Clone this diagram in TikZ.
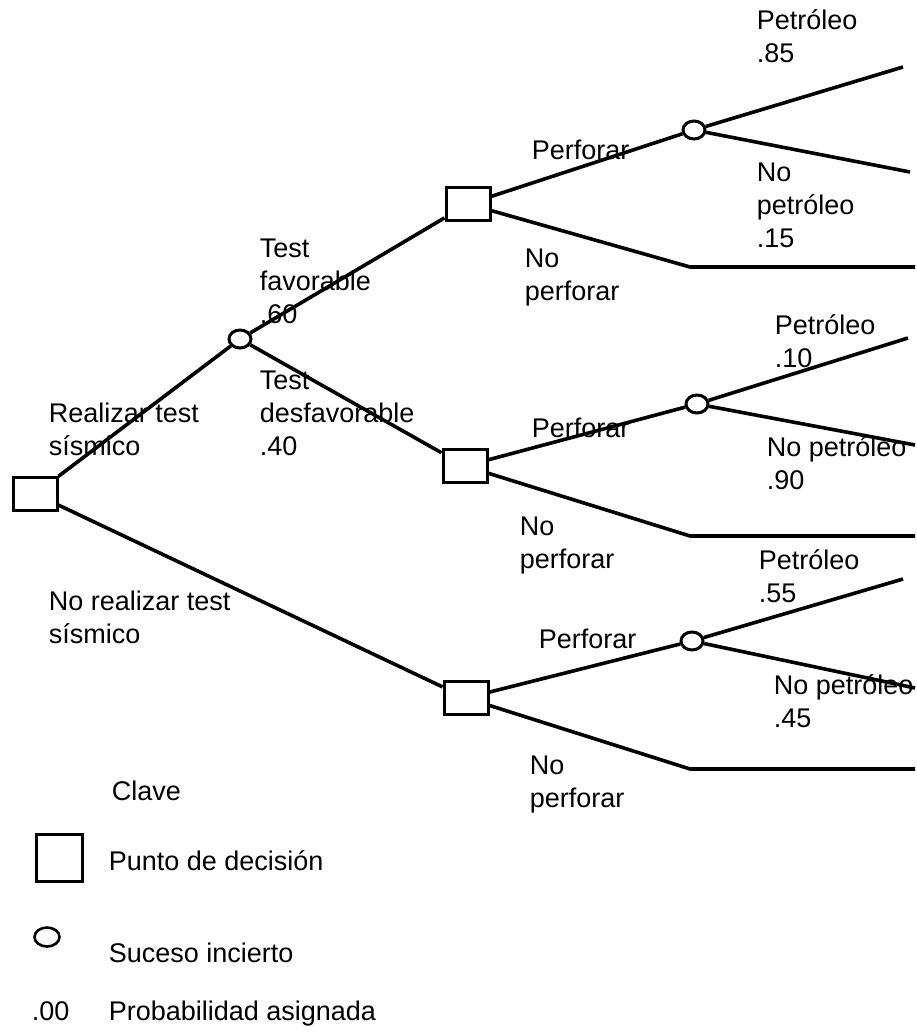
\documentclass[tikz,border=0pt]{standalone}
\usepackage{fontspec}
\setmainfont{Liberation Sans}
\usetikzlibrary{shapes.geometric}
\begin{document}
\begin{tikzpicture}[x=1pt,y=-1pt,line width=3.6pt,
    decision/.style={draw,rectangle,minimum width=44pt,minimum height=33pt,inner sep=0pt,line width=3pt},
    chance/.style={draw,ellipse,minimum width=22pt,minimum height=18pt,inner sep=0pt,line width=3pt},
    lbl/.style={anchor=base west,align=left,inner sep=0pt,font=\fontsize{27}{33}\selectfont}]
  \useasboundingbox (0,0) rectangle (917,1033);
  % nodes of the tree
  \node[decision] (root) at (35,494) {};
  \node[chance] (test) at (240,339) {};
  \node[decision] (fav) at (468,204) {};
  \node[decision] (desf) at (465,466) {};
  \node[decision] (nores) at (466,698) {};
  \node[chance] (favp) at (694,130) {};
  \node[chance] (desfp) at (697,404) {};
  \node[chance] (noresp) at (692,641) {};
  \coordinate (favoil) at (903,67);
  \coordinate (favdry) at (910,172);
  \coordinate (favk) at (690,267);
  \coordinate (favend) at (915,267);
  \coordinate (desfoil) at (908,338);
  \coordinate (desfdry) at (915,445);
  \coordinate (desfk) at (690,536);
  \coordinate (desfend) at (915,536);
  \coordinate (noresoil) at (903,579);
  \coordinate (noresdry) at (915,688);
  \coordinate (noresk) at (690,769);
  \coordinate (noresend) at (915,769);
  % branches
  \draw (root) -- (test);
  \draw (root) -- (nores);
  \draw (test) -- (fav);
  \draw (test) -- (desf);
  \draw (fav) -- (favp);
  \draw (favp) -- (favoil);
  \draw (favp) -- (favdry);
  \draw (fav) -- (favk) -- (favend);
  \draw (desf) -- (desfp);
  \draw (desfp) -- (desfoil);
  \draw (desfp) -- (desfdry);
  \draw (desf) -- (desfk) -- (desfend);
  \draw (nores) -- (noresp);
  \draw (noresp) -- (noresoil);
  \draw (noresp) -- (noresdry);
  \draw (nores) -- (noresk) -- (noresend);
  % labels (placed at the baseline of their last line)
  \node[lbl] (lrt) at (47,455) {Realizar test\\sísmico};
  \node[lbl] (lnrt) at (47,643) {No realizar test\\sísmico};
  \node[lbl] (lfav) at (258,323) {Test\\favorable\\.60};
  \node[lbl] (ldesf) at (258,455) {Test\\desfavorable\\.40};
  \node[lbl] (lfavp) at (530,159) {Perforar};
  \node[lbl] (lfavnp) at (523,300) {No\\perforar};
  \node[lbl] (lfavoil) at (755,63) {Petróleo\\.85};
  \node[lbl] (lfavdry) at (755,247) {No\\petróleo\\.15};
  \node[lbl] (ldesfp) at (530,437) {Perforar};
  \node[lbl] (ldesfnp) at (518,568) {No\\perforar};
  \node[lbl] (ldesfoil) at (773,367) {Petróleo\\.10};
  \node[lbl] (ldesfdry) at (765,489) {No petróleo\\.90};
  \node[lbl] (lnresp) at (537,648) {Perforar};
  \node[lbl] (lnresnp) at (528,807) {No\\perforar};
  \node[lbl] (lnresoil) at (757,602) {Petróleo\\.55};
  \node[lbl] (lnresdry) at (772,727) {No petróleo\\.45};
  % key
  \node[lbl] (clave) at (110,800) {Clave};
  \node[decision,minimum width=46pt,minimum height=47pt] (keydec) at (59,858) {};
  \node[lbl] (keydectxt) at (107,870) {Punto de decisión};
  \node[chance,minimum width=25pt,minimum height=19pt,line width=2.6pt] (keych) at (47,937) {};
  \node[lbl] (keychtxt) at (107,962) {Suceso incierto};
  \node[lbl] (keypr) at (30,1020) {.00};
  \node[lbl] (keyprtxt) at (107,1020) {Probabilidad asignada};
\end{tikzpicture}
\end{document}
